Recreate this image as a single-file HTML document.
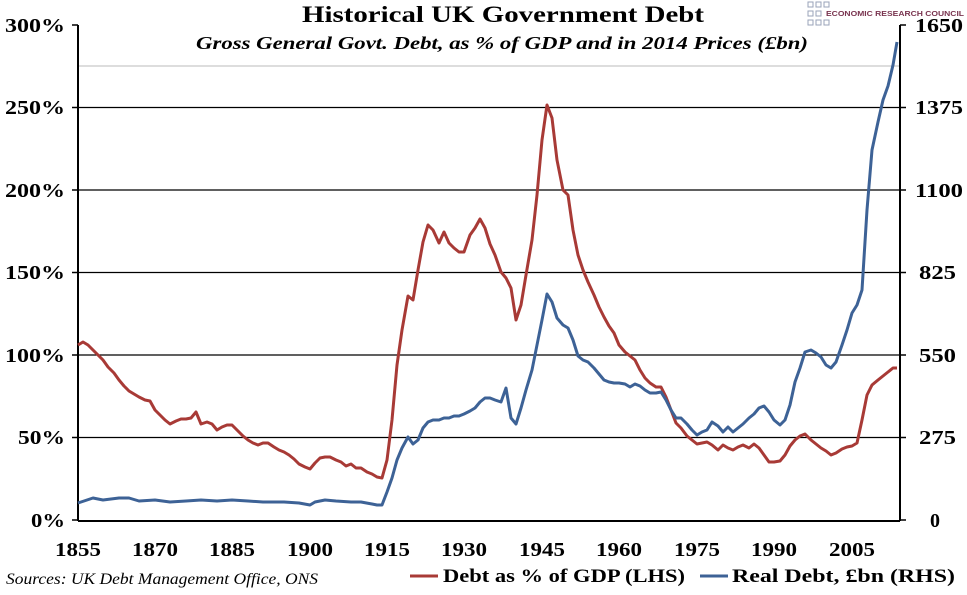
<!DOCTYPE html>
<html><head><meta charset="utf-8"><style>
body{margin:0;background:#fff}
svg text{font-family:"Liberation Serif",serif;font-weight:bold}
</style></head><body>
<svg width="967" height="590" viewBox="0 0 967 590" xmlns="http://www.w3.org/2000/svg">
<rect width="967" height="590" fill="#fff"/>
<text x="302" y="22" font-size="23" textLength="402" lengthAdjust="spacingAndGlyphs">Historical UK Government Debt</text>
<text x="196" y="49" font-size="18" font-style="italic" textLength="612" lengthAdjust="spacingAndGlyphs">Gross General Govt. Debt, as % of GDP and in 2014 Prices (£bn)</text>
<g fill="none" stroke="#9aa3b8" stroke-width="1">
<rect x="808" y="2" width="5" height="5"/><rect x="816" y="2" width="5" height="5"/><rect x="824" y="2" width="5" height="5"/>
<rect x="808" y="11" width="5" height="5"/><rect x="816" y="11" width="5" height="5"/>
<rect x="808" y="20" width="5" height="5"/><rect x="816" y="20" width="5" height="5"/><rect x="824" y="20" width="5" height="5"/>
</g>
<text x="826" y="16" font-size="7.5" fill="#7a3550" textLength="138" lengthAdjust="spacingAndGlyphs" style="font-family:'Liberation Sans',sans-serif">ECONOMIC RESEARCH COUNCIL</text>
<g stroke="#000" stroke-width="1.2">
<line x1="78" y1="107.5" x2="900" y2="107.5"/><line x1="78" y1="190" x2="900" y2="190"/>
<line x1="78" y1="272.5" x2="900" y2="272.5"/><line x1="78" y1="355" x2="900" y2="355"/>
<line x1="78" y1="437.5" x2="900" y2="437.5"/>
</g>
<line x1="78" y1="66" x2="900" y2="66" stroke="#bbb" stroke-width="1"/>
<g stroke="#000" stroke-width="2">
<line x1="78" y1="25" x2="78" y2="521"/><line x1="900" y1="25" x2="900" y2="521"/>
<line x1="78" y1="521" x2="900" y2="521"/>
</g>
<g stroke="#000" stroke-width="1.5">
<line x1="72" y1="25" x2="78" y2="25"/><line x1="72" y1="107.5" x2="78" y2="107.5"/><line x1="72" y1="190" x2="78" y2="190"/><line x1="72" y1="272.5" x2="78" y2="272.5"/><line x1="72" y1="355" x2="78" y2="355"/><line x1="72" y1="437.5" x2="78" y2="437.5"/><line x1="72" y1="520" x2="78" y2="520"/>
<line x1="900" y1="25" x2="906" y2="25"/><line x1="900" y1="107.5" x2="906" y2="107.5"/><line x1="900" y1="190" x2="906" y2="190"/><line x1="900" y1="272.5" x2="906" y2="272.5"/><line x1="900" y1="355" x2="906" y2="355"/><line x1="900" y1="437.5" x2="906" y2="437.5"/><line x1="900" y1="520" x2="906" y2="520"/>
</g>
<g font-size="20" text-anchor="end" lengthAdjust="spacingAndGlyphs">
<text x="65" y="32" textLength="60" lengthAdjust="spacingAndGlyphs">300%</text><text x="65" y="114" textLength="60" lengthAdjust="spacingAndGlyphs">250%</text><text x="65" y="197" textLength="60" lengthAdjust="spacingAndGlyphs">200%</text><text x="65" y="279" textLength="60" lengthAdjust="spacingAndGlyphs">150%</text><text x="65" y="362" textLength="60" lengthAdjust="spacingAndGlyphs">100%</text><text x="65" y="444" textLength="47" lengthAdjust="spacingAndGlyphs">50%</text><text x="65" y="527" textLength="34" lengthAdjust="spacingAndGlyphs">0%</text>
</g>
<g font-size="20" text-anchor="start">
<text x="915" y="32" textLength="48" lengthAdjust="spacingAndGlyphs">1650</text><text x="915" y="114" textLength="48" lengthAdjust="spacingAndGlyphs">1375</text><text x="915" y="197" textLength="48" lengthAdjust="spacingAndGlyphs">1100</text><text x="919" y="279" textLength="37" lengthAdjust="spacingAndGlyphs">825</text><text x="919" y="362" textLength="37" lengthAdjust="spacingAndGlyphs">550</text><text x="919" y="444" textLength="37" lengthAdjust="spacingAndGlyphs">275</text><text x="930" y="527">0</text>
</g>
<g font-size="20" text-anchor="middle">
<text x="78" y="556" textLength="46" lengthAdjust="spacingAndGlyphs">1855</text><text x="155" y="556" textLength="46" lengthAdjust="spacingAndGlyphs">1870</text><text x="232" y="556" textLength="46" lengthAdjust="spacingAndGlyphs">1885</text><text x="310" y="556" textLength="46" lengthAdjust="spacingAndGlyphs">1900</text><text x="387" y="556" textLength="46" lengthAdjust="spacingAndGlyphs">1915</text><text x="464" y="556" textLength="46" lengthAdjust="spacingAndGlyphs">1930</text><text x="542" y="556" textLength="46" lengthAdjust="spacingAndGlyphs">1945</text><text x="619" y="556" textLength="46" lengthAdjust="spacingAndGlyphs">1960</text><text x="697" y="556" textLength="46" lengthAdjust="spacingAndGlyphs">1975</text><text x="774" y="556" textLength="46" lengthAdjust="spacingAndGlyphs">1990</text><text x="852" y="556" textLength="46" lengthAdjust="spacingAndGlyphs">2005</text>
</g>
<g id="tk" stroke="#000" stroke-width="1"></g>
<polyline fill="none" stroke="#a83a36" stroke-width="3" stroke-linejoin="round" points="78,345 83,342 88,345 93,350 98,355 103,360 108,367 114,373 119,380 124,386 129,391 134,394 139,397 145,400 150,401 155,410 160,415 165,420 170,424 176,421 181,419 186,419 191,418 196,412 201,424 207,422 212,424 217,430 222,427 227,425 232,425 237,430 243,436 248,440 253,443 258,445 263,443 268,443 274,447 279,450 284,452 289,455 294,459 299,464 305,467 310,469 315,463 320,458 325,457 330,457 336,460 341,462 346,466 351,464 356,468 361,468 367,472 372,474 377,477 382,478 387,460 392,420 397,365 402,330 408,296 413,300 418,270 423,242 428,225 433,230 439,243 444,232 449,243 454,248 459,252 464,252 470,235 475,228 480,219 485,228 490,244 495,255 501,272 506,278 511,288 516,320 521,305 526,275 532,240 537,195 542,140 547,105 552,118 557,160 563,190 568,195 573,230 578,255 583,270 588,282 594,295 599,307 604,317 609,326 614,333 619,345 625,352 630,356 635,360 640,370 645,378 650,383 656,387 661,387 666,397 671,410 676,423 681,428 687,436 692,440 697,444 702,443 707,442 712,445 718,450 723,445 728,448 733,450 738,447 743,445 749,448 754,444 759,448 764,455 769,462 774,462 780,461 785,455 790,446 795,440 800,436 805,434 811,440 816,444 821,448 826,451 831,455 836,453 842,449 847,447 852,446 857,443 862,420 867,395 872,385 878,380 883,376 888,372 893,368 897,368"/>
<polyline fill="none" stroke="#3d6296" stroke-width="3" stroke-linejoin="round" points="78,503 93,498 103,500 119,498 129,498 139,501 155,500 170,502 186,501 201,500 217,501 232,500 248,501 263,502 284,502 299,503 310,505 315,502 325,500 336,501 351,502 361,502 372,504 377,505 382,505 387,492 392,478 397,460 402,448 408,437 413,444 418,440 423,428 428,422 433,420 439,420 444,418 449,418 454,416 459,416 464,414 470,411 475,408 480,402 485,398 490,398 495,400 501,402 506,388 511,418 516,424 521,408 526,390 532,370 537,345 542,320 547,294 552,302 557,318 563,325 568,328 573,340 578,356 583,360 588,362 594,368 599,374 604,380 609,382 614,383 619,383 625,384 630,387 635,384 640,386 645,390 650,393 656,393 661,392 666,400 671,410 676,418 681,418 687,424 692,430 697,435 702,432 707,430 712,422 718,426 723,432 728,427 733,432 738,428 743,424 749,418 754,414 759,408 764,406 769,412 774,420 780,425 785,420 790,405 795,382 800,368 805,352 811,350 816,353 821,357 826,365 831,368 836,362 842,345 847,330 852,313 857,305 862,290 867,210 872,150 878,122 883,100 888,86 893,65 897,42"/>
<text x="6" y="584" font-size="16" font-style="italic" textLength="312" lengthAdjust="spacingAndGlyphs" style="font-weight:normal">Sources: UK Debt Management Office, ONS</text>
<line x1="410" y1="576" x2="438" y2="576" stroke="#a83a36" stroke-width="3"/>
<text x="443" y="582" font-size="19" textLength="242" lengthAdjust="spacingAndGlyphs">Debt as % of GDP (LHS)</text>
<line x1="700" y1="576" x2="728" y2="576" stroke="#3d6296" stroke-width="3"/>
<text x="732" y="582" font-size="19" textLength="223" lengthAdjust="spacingAndGlyphs">Real Debt, £bn (RHS)</text>
<script>
var g=document.getElementById('tk');var s='';
for(var i=0;i<=159;i++){var x=78+i*5.155;if(x>900)break;s+='<line x1="'+x+'" y1="521" x2="'+x+'" y2="527"/>';}
g.innerHTML=s;
</script>
</svg>
</body></html>
